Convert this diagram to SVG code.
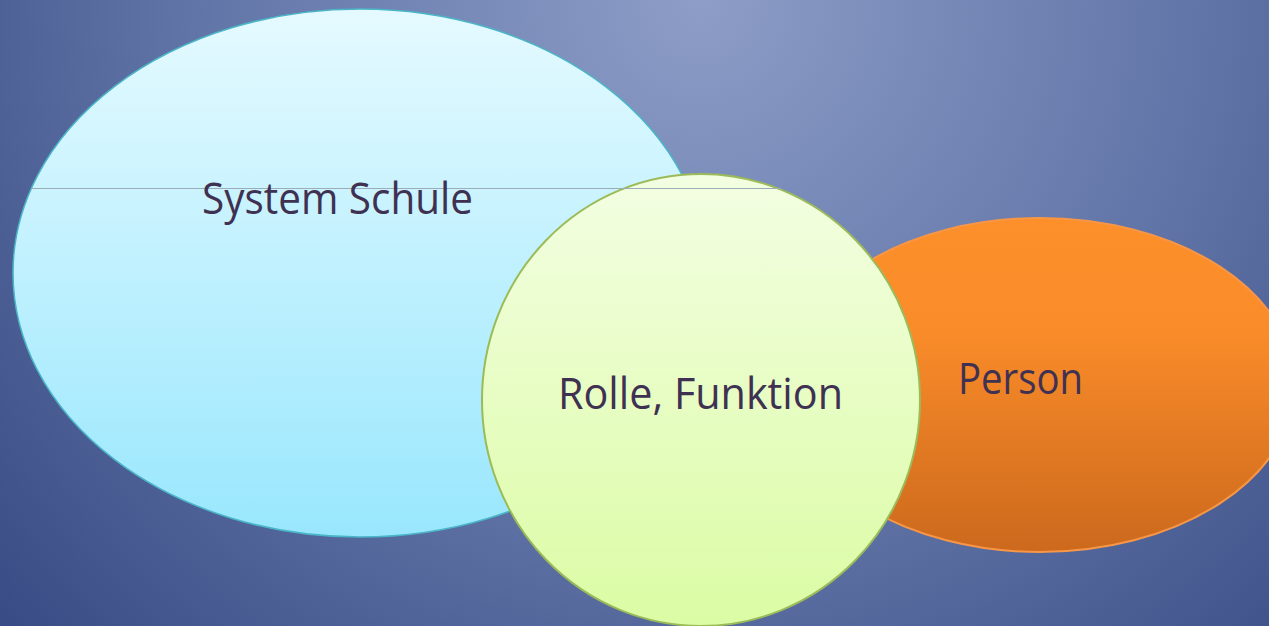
<svg xmlns="http://www.w3.org/2000/svg" width="1269" height="626" viewBox="0 0 1269 626">
<defs>
<radialGradient id="bg" gradientUnits="userSpaceOnUse" cx="700" cy="0" r="950">
<stop offset="0" stop-color="#8d9dc7"/>
<stop offset="0.55" stop-color="#5f73a6"/>
<stop offset="1" stop-color="#374a83"/>
</radialGradient>
<linearGradient id="gBlue" x1="0" y1="0" x2="0" y2="1">
<stop offset="0" stop-color="#e5faff"/>
<stop offset="1" stop-color="#99e7fd"/>
</linearGradient>
<linearGradient id="gGreen" x1="0" y1="0" x2="0" y2="1">
<stop offset="0" stop-color="#f3fee2"/>
<stop offset="1" stop-color="#dbfca4"/>
</linearGradient>
<linearGradient id="gOrange" x1="0" y1="0" x2="0" y2="1">
<stop offset="0" stop-color="#fe902b"/>
<stop offset="0.35" stop-color="#f98b29"/>
<stop offset="1" stop-color="#cc691d"/>
</linearGradient>
</defs>
<style>
.lbl{font-family:"Open Sans","Noto Sans","Liberation Sans",sans-serif;font-size:43.5px;fill:#3f3151;text-anchor:middle}
</style>
<rect width="1269" height="626" fill="url(#bg)"/>
<g id="node-person">
<ellipse cx="1040" cy="385" rx="255" ry="167" fill="url(#gOrange)" stroke="#f79646" stroke-width="2"/>
</g>
<g id="node-system">
<ellipse cx="360" cy="273" rx="347" ry="264" fill="url(#gBlue)" stroke="#4bb5c8" stroke-width="1.5"/>
</g>
<g id="node-rolle">
<ellipse cx="701" cy="400" rx="219" ry="226" fill="url(#gGreen)" stroke="#9bbb59" stroke-width="2"/>
</g>
<g id="connectors">
<line x1="32" y1="188.5" x2="781" y2="188.5" stroke="#9cacb8" stroke-width="1"/>
</g>
<g id="labels">
<text class="lbl" x="337.5" y="214" textLength="271" lengthAdjust="spacingAndGlyphs">System Schule</text>
<text class="lbl" x="700.5" y="409" textLength="285" lengthAdjust="spacingAndGlyphs">Rolle, Funktion</text>
<text class="lbl" x="1020.5" y="394" textLength="125" lengthAdjust="spacingAndGlyphs">Person</text>
</g>
</svg>
